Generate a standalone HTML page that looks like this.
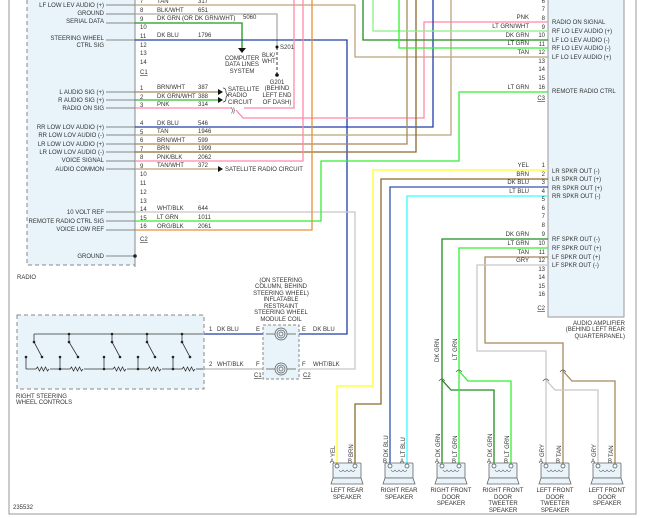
<!DOCTYPE html>
<html><head><meta charset="utf-8"><style>
html,body{margin:0;padding:0;background:#fff;}
svg{display:block;font-family:"Liberation Sans",sans-serif;}
text{font-size:6px;fill:#333;}
.w{fill:none;stroke-width:1.3;}
</style></head><body>
<svg width="650" height="518" viewBox="0 0 650 518" xmlns="http://www.w3.org/2000/svg">
<path d="M9,0 V514 H636 V0" fill="none" stroke="#999" stroke-width="1"/>
<rect x="27" y="-2" width="108" height="267" fill="#e8f4fa"/>
<path d="M27,0 V265 H135" fill="none" stroke="#888" stroke-dasharray="4,3"/>
<line x1="135" y1="0" x2="135" y2="267" stroke="#888"/>
<text x="17" y="279">RADIO</text>
<rect x="548" y="-2" width="76" height="319" fill="#e8f4fa" stroke="#999"/>
<g text-anchor="end"><text x="625" y="325">AUDIO AMPLIFIER</text><text x="625" y="331">(BEHIND LEFT REAR</text><text x="625" y="338">QUARTERPANEL)</text></g>

<g text-anchor="end">
<text x="104" y="7">LF LOW LEV AUDIO (+)</text>
<text x="104" y="15">GROUND</text>
<text x="104" y="23">SERIAL DATA</text>
<text x="104" y="40">STEERING WHEEL</text>
<text x="104" y="47">CTRL SIG</text>
<text x="104" y="94">L AUDIO SIG (+)</text>
<text x="104" y="102">R AUDIO SIG (+)</text>
<text x="104" y="110">RADIO ON SIG</text>
<text x="104" y="129">RR LOW LOV AUDIO (+)</text>
<text x="104" y="137">RR LOW LOV AUDIO (-)</text>
<text x="104" y="146">LR LOW LOV AUDIO (+)</text>
<text x="104" y="154">LR LOW LOV AUDIO (-)</text>
<text x="104" y="162">VOICE SIGNAL</text>
<text x="104" y="171">AUDIO COMMON</text>
<text x="104" y="214">10 VOLT REF</text>
<text x="104" y="223">REMOTE RADIO CTRL SIG</text>
<text x="104" y="231">VOICE LOW REF</text>
<text x="104" y="258">GROUND</text>
</g>
<g stroke="#666" stroke-width="0.8">
<line x1="106" y1="5" x2="135" y2="5"/><line x1="106" y1="14" x2="135" y2="14"/><line x1="106" y1="23" x2="135" y2="23"/><line x1="106" y1="40" x2="135" y2="40"/>
<line x1="106" y1="92" x2="135" y2="92"/><line x1="106" y1="100" x2="135" y2="100"/><line x1="106" y1="108" x2="135" y2="108"/>
<line x1="106" y1="127" x2="135" y2="127"/><line x1="106" y1="135" x2="135" y2="135"/><line x1="106" y1="144" x2="135" y2="144"/><line x1="106" y1="152" x2="135" y2="152"/><line x1="106" y1="161" x2="135" y2="161"/><line x1="106" y1="169" x2="135" y2="169"/>
<line x1="106" y1="212" x2="135" y2="212"/><line x1="106" y1="221" x2="135" y2="221"/><line x1="106" y1="230" x2="135" y2="230"/><line x1="106" y1="256" x2="135" y2="256"/>
</g>
<circle cx="135" cy="256" r="1.8" fill="#222"/>
<g>
<text x="140" y="3">7</text><text x="140" y="12">8</text><text x="140" y="21">9</text><text x="140" y="29">10</text><text x="140" y="38">11</text><text x="140" y="47">12</text><text x="140" y="55">13</text><text x="140" y="64">14</text>
<text x="140" y="74" text-decoration="underline">C1</text>
<text x="140" y="90">1</text><text x="140" y="99">2</text><text x="140" y="107">3</text>
<text x="140" y="125">4</text><text x="140" y="134">5</text><text x="140" y="142">6</text><text x="140" y="151">7</text><text x="140" y="159">8</text><text x="140" y="168">9</text><text x="140" y="176">10</text><text x="140" y="185">11</text><text x="140" y="194">12</text><text x="140" y="203">13</text><text x="140" y="211">14</text><text x="140" y="220">15</text><text x="140" y="228">16</text>
<text x="140" y="241" text-decoration="underline">C2</text>
</g>
<g>
<text x="157" y="3">TAN</text><text x="198" y="3">317</text>
<text x="157" y="12">BLK/WHT</text><text x="198" y="12">651</text>
<text x="157" y="20">DK GRN</text><text x="182" y="20">(OR DK GRN/WHT)</text><text x="243" y="19">5060</text>
<text x="157" y="37">DK BLU</text><text x="198" y="37">1796</text>
<text x="157" y="89">BRN/WHT</text><text x="198" y="89">387</text>
<text x="157" y="98">DK GRN/WHT</text><text x="198" y="98">388</text>
<text x="157" y="106">PNK</text><text x="198" y="106">314</text>
<text x="157" y="125">DK BLU</text><text x="198" y="125">546</text>
<text x="157" y="133">TAN</text><text x="198" y="133">1946</text>
<text x="157" y="142">BRN/WHT</text><text x="198" y="142">599</text>
<text x="157" y="150">BRN</text><text x="198" y="150">1999</text>
<text x="157" y="159">PNK/BLK</text><text x="198" y="159">2062</text>
<text x="157" y="167">TAN/WHT</text><text x="198" y="167">372</text>
<text x="157" y="210">WHT/BLK</text><text x="198" y="210">644</text>
<text x="157" y="219">LT GRN</text><text x="198" y="219">1011</text>
<text x="157" y="228">ORG/BLK</text><text x="198" y="228">2061</text>
</g>

<g class="w">
<path d="M135,5 H355 V57 H548" stroke="#bba57c"/>
<path d="M135,14 H277 V47" stroke="#aaa"/>
<path d="M277,47 V75" stroke="#666" stroke-dasharray="3,2"/>
<path d="M135,23 H242 V48" stroke="#1a9a1a"/>
<path d="M135,40 H347 V334 H299" stroke="#1f3ea8"/>
<path d="M135,92 H218" stroke="#a8885a"/>
<path d="M135,100 H218" stroke="#33bb33"/>
<path d="M135,108 H232" stroke="#ff88aa"/>
<path d="M236,110 L243,118 H424 V22 H548" stroke="#ff88aa"/>
<path d="M294,0 V108 H244" stroke="#ff88aa"/>
<path d="M135,127 H433 V0" stroke="#1f3ea8"/>
<path d="M135,135 H451 V0" stroke="#bba57c"/>
<path d="M135,144 H407 V0" stroke="#a8885a"/>
<path d="M135,152 H416 V0" stroke="#8b6a2e"/>
<path d="M135,161 H303 V0" stroke="#ff88aa"/>
<path d="M135,169 H218" stroke="#bba57c"/>
<path d="M135,212 H355 V369 H299" stroke="#c8c8c8"/>
<path d="M135,221 H321 V161 H459 V92 H548" stroke="#33ee33"/>
<path d="M135,230 H312 V0" stroke="#e8903a"/>
<path d="M373,0 V31 H548" stroke="#88ee88"/>
<path d="M363,0 V40 H548" stroke="#228b22"/>
<path d="M399,0 V48 H548" stroke="#33ee33"/>
<path d="M548,170 H373 V386 H337 V465" stroke="#ffff22"/>
<path d="M548,179 H381 V404 H355 V465" stroke="#8b6a2e"/>
<path d="M548,187 H390 V465" stroke="#3050b0"/>
<path d="M548,196 H407 V465" stroke="#33ffff"/>
<path d="M548,239 H442 V465" stroke="#228b22"/>
<path d="M442,380 L451,390 H494 V465" stroke="#228b22"/>
<path d="M548,248 H459 V465" stroke="#33ee33"/>
<path d="M459,371 L468,381 H511 V465" stroke="#33ee33"/>
<path d="M548,257 H485 V343 H563 V465" stroke="#a8885a"/>
<path d="M563,371 L572,381 H615 V465" stroke="#a8885a"/>
<path d="M548,265 H477 V351 H546 V465" stroke="#c8c8c8"/>
<path d="M546,380 L555,390 H598 V465" stroke="#c8c8c8"/>
<path d="M204,334 H263" stroke="#1f3ea8"/>
<path d="M204,369 H263" stroke="#bbb"/>
</g>
<g fill="none" stroke="#555" stroke-width="0.7">
<path d="M439,381 q3,-4 6,0"/><path d="M456,372 q3,-4 6,0"/><path d="M543,381 q3,-4 6,0"/><path d="M560,372 q3,-4 6,0"/>
</g>
<polygon points="238,48 246,48 242,53" fill="#111"/>
<g text-anchor="middle"><text x="242" y="60">COMPUTER</text><text x="242" y="66">DATA LINES</text><text x="242" y="73">SYSTEM</text></g>
<circle cx="277" cy="47" r="1.5" fill="#111"/><text x="280" y="49">S201</text>
<text x="262" y="57">BLK/</text><text x="262" y="63">WHT</text>
<circle cx="277" cy="75" r="1.8" fill="#111"/>
<g text-anchor="middle"><text x="277" y="84">G201</text><text x="277" y="90">(BEHIND</text><text x="277" y="97">LEFT END</text><text x="277" y="104">OF DASH)</text></g>
<polygon points="218,89 223,92 218,95" fill="#111"/><polygon points="218,97 223,100 218,103" fill="#111"/><polygon points="218,166 223,169 218,172" fill="#111"/>
<path d="M223,88 q3,0 3,4 q0,2 2,3 q-2,1 -2,3 q0,4 -3,4" fill="none" stroke="#333" stroke-width="0.7"/>
<text x="228" y="91">SATELLITE</text><text x="228" y="97">RADIO</text><text x="228" y="104">CIRCUIT</text>
<text x="231" y="112">)}</text>
<text x="225" y="171">SATELLITE RADIO CIRCUIT</text>

<g text-anchor="end">
<text x="529" y="19">PNK</text><text x="529" y="28">LT GRN/WHT</text><text x="529" y="37">DK GRN</text><text x="529" y="45">LT GRN</text><text x="529" y="54">TAN</text><text x="529" y="89">LT GRN</text>
<text x="545" y="3">6</text><text x="545" y="11">7</text>
<text x="545" y="20">8</text><text x="545" y="29">9</text><text x="545" y="37">10</text><text x="545" y="46">11</text><text x="545" y="54">12</text><text x="545" y="63">13</text><text x="545" y="71">14</text><text x="545" y="80">15</text><text x="545" y="89">16</text>
<text x="545" y="100" text-decoration="underline">C3</text>
<text x="529" y="167">YEL</text><text x="529" y="176">BRN</text><text x="529" y="184">DK BLU</text><text x="529" y="193">LT BLU</text>
<text x="545" y="167">1</text><text x="545" y="176">2</text><text x="545" y="184">3</text><text x="545" y="193">4</text><text x="545" y="201">5</text><text x="545" y="210">6</text><text x="545" y="218">7</text><text x="545" y="227">8</text>
<text x="529" y="236">DK GRN</text><text x="529" y="245">LT GRN</text><text x="529" y="254">TAN</text><text x="529" y="262">GRY</text>
<text x="545" y="236">9</text><text x="545" y="245">10</text><text x="545" y="254">11</text><text x="545" y="262">12</text><text x="545" y="271">13</text><text x="545" y="279">14</text><text x="545" y="288">15</text><text x="545" y="296">16</text>
<text x="545" y="310" text-decoration="underline">C2</text>
</g>
<g>
<text x="552" y="24">RADIO ON SIGNAL</text><text x="552" y="33">RF LO LEV AUDIO (+)</text><text x="552" y="42">LF LO LEV AUDIO (-)</text><text x="552" y="50">RF LO LEV AUDIO (-)</text><text x="552" y="59">LF LO LEV AUDIO (+)</text><text x="552" y="93">REMOTE RADIO CTRL</text>
<text x="552" y="173">LR SPKR OUT (-)</text><text x="552" y="181">LR SPKR OUT (+)</text><text x="552" y="190">RR SPKR OUT (+)</text><text x="552" y="198">RR SPKR OUT (-)</text>
<text x="552" y="241">RF SPKR OUT (-)</text><text x="552" y="250">RF SPKR OUT (+)</text><text x="552" y="259">LF SPKR OUT (+)</text><text x="552" y="267">LF SPKR OUT (-)</text>
</g>

<rect x="17" y="315" width="187" height="74" fill="#e8f4fa" stroke="#888" stroke-dasharray="4,3"/>
<text x="16" y="398">RIGHT STEERING</text><text x="16" y="404">WHEEL CONTROLS</text>
<g stroke="#333" stroke-width="0.8" fill="none">
<path d="M34,334 H203"/><path d="M26,369 H36 M50,369 H70 M84,369 H113 M127,369 H148 M162,369 H182 M196,369 H203"/>
<path d="M36,369 l1.5,-2 l2,4 l2,-4 l2,4 l2,-4 l2,4 l1.5,-2 M70,369 l1.5,-2 l2,4 l2,-4 l2,4 l2,-4 l2,4 l1.5,-2 M113,369 l1.5,-2 l2,4 l2,-4 l2,4 l2,-4 l2,4 l1.5,-2 M148,369 l1.5,-2 l2,4 l2,-4 l2,4 l2,-4 l2,4 l1.5,-2 M182,369 l1.5,-2 l2,4 l2,-4 l2,4 l2,-4 l2,4 l1.5,-2"/>
<path d="M34,334 V342 L42,357 M69,334 V342 L78,357 M112,334 V342 L120,357 M147,334 V342 L155,357 M182,334 V342 L190,357"/>
<path d="M26,357 V369 M60,357 V369 M104,357 V369 M138,357 V369 M173,357 V369"/>
</g>
<g fill="#222">
<circle cx="34" cy="342" r="1.3"/><circle cx="42" cy="357" r="1.3"/><circle cx="69" cy="334" r="1.3"/><circle cx="69" cy="342" r="1.3"/><circle cx="78" cy="357" r="1.3"/><circle cx="112" cy="334" r="1.3"/><circle cx="112" cy="342" r="1.3"/><circle cx="120" cy="357" r="1.3"/><circle cx="147" cy="334" r="1.3"/><circle cx="147" cy="342" r="1.3"/><circle cx="155" cy="357" r="1.3"/><circle cx="182" cy="334" r="1.3"/><circle cx="182" cy="342" r="1.3"/><circle cx="190" cy="357" r="1.3"/>
<circle cx="26" cy="357" r="1.3"/><circle cx="60" cy="357" r="1.3"/><circle cx="60" cy="369" r="1.3"/><circle cx="104" cy="357" r="1.3"/><circle cx="104" cy="369" r="1.3"/><circle cx="138" cy="357" r="1.3"/><circle cx="138" cy="369" r="1.3"/><circle cx="173" cy="357" r="1.3"/><circle cx="173" cy="369" r="1.3"/>
</g>
<text x="209" y="331">1</text><text x="217" y="331">DK BLU</text>
<text x="209" y="366">2</text><text x="217" y="366">WHT/BLK</text>
<rect x="263" y="325" width="36" height="54" fill="#e8f4fa" stroke="#888" stroke-dasharray="3,2"/>
<g fill="none" stroke="#555" stroke-width="0.7">
<circle cx="281" cy="334" r="6"/><circle cx="281" cy="334" r="4"/><circle cx="281" cy="334" r="2"/>
<circle cx="281" cy="369" r="6"/><circle cx="281" cy="369" r="4"/><circle cx="281" cy="369" r="2"/>
<path d="M266,334 H275 M287,334 H296 M266,369 H275 M287,369 H296"/>
</g>
<g text-anchor="middle">
<text x="281" y="282">(ON STEERING</text><text x="281" y="288">COLUMN, BEHIND</text><text x="281" y="295">STEERING WHEEL)</text><text x="281" y="301">INFLATABLE</text><text x="281" y="308">RESTRAINT</text><text x="281" y="314">STEERING WHEEL</text><text x="281" y="321">MODULE COIL</text>
</g>
<text x="256" y="331">E</text><text x="302" y="331">E</text><text x="256" y="366">F</text><text x="302" y="366">F</text>
<text x="254" y="377" text-decoration="underline">C1</text><text x="303" y="377" text-decoration="underline">C2</text>
<text x="313" y="331">DK BLU</text><text x="313" y="366">WHT/BLK</text>
<text x="13" y="509">235532</text>

<g>
<text transform="translate(439,362) rotate(-90)">DK GRN</text>
<text transform="translate(457,360) rotate(-90)">LT GRN</text>
</g>

<g fill="#e8f4fa" stroke="#666" stroke-width="0.8">
<rect x="333" y="463" width="28" height="15" rx="1"/><polygon points="333,478 361,478 363,484 331,484"/>
<rect x="385" y="463" width="28" height="15" rx="1"/><polygon points="385,478 413,478 415,484 383,484"/>
<rect x="437" y="463" width="28" height="15" rx="1"/><polygon points="437,478 465,478 467,484 435,484"/>
<rect x="489" y="463" width="28" height="15" rx="1"/><polygon points="489,478 517,478 519,484 487,484"/>
<rect x="541" y="463" width="28" height="15" rx="1"/><polygon points="541,478 569,478 571,484 539,484"/>
<rect x="593" y="463" width="28" height="15" rx="1"/><polygon points="593,478 621,478 623,484 591,484"/>
</g>
<g fill="none" stroke="#555" stroke-width="0.6">
<path d="M339,470 q2,3 4,0 q2,3 4,0 q2,3 4,0 q2,3 4,0"/>
<path d="M391,470 q2,3 4,0 q2,3 4,0 q2,3 4,0 q2,3 4,0"/>
<path d="M443,470 q2,3 4,0 q2,3 4,0 q2,3 4,0 q2,3 4,0"/>
<path d="M495,470 q2,3 4,0 q2,3 4,0 q2,3 4,0 q2,3 4,0"/>
<path d="M547,470 q2,3 4,0 q2,3 4,0 q2,3 4,0 q2,3 4,0"/>
<path d="M599,470 q2,3 4,0 q2,3 4,0 q2,3 4,0 q2,3 4,0"/>
</g>
<g fill="#fff" stroke="#444" stroke-width="0.7">
<circle cx="337" cy="466" r="2"/><circle cx="355" cy="466" r="2"/><circle cx="390" cy="466" r="2"/><circle cx="407" cy="466" r="2"/>
<circle cx="442" cy="466" r="2"/><circle cx="459" cy="466" r="2"/><circle cx="494" cy="466" r="2"/><circle cx="511" cy="466" r="2"/>
<circle cx="546" cy="466" r="2"/><circle cx="563" cy="466" r="2"/><circle cx="598" cy="466" r="2"/><circle cx="615" cy="466" r="2"/>
</g>
<g>
<text x="330" y="463">A</text><text x="348" y="463">B</text><text x="383" y="463">B</text><text x="400" y="463">A</text>
<text x="435" y="463">A</text><text x="452" y="463">B</text><text x="487" y="463">A</text><text x="504" y="463">B</text>
<text x="539" y="463">A</text><text x="556" y="463">B</text><text x="591" y="463">A</text><text x="608" y="463">B</text>
<text transform="translate(335,457) rotate(-90)">YEL</text><text transform="translate(353,457) rotate(-90)">BRN</text>
<text transform="translate(388,457) rotate(-90)">DK BLU</text><text transform="translate(405,457) rotate(-90)">LT BLU</text>
<text transform="translate(440,457) rotate(-90)">DK GRN</text><text transform="translate(457,457) rotate(-90)">LT GRN</text>
<text transform="translate(492,457) rotate(-90)">DK GRN</text><text transform="translate(509,457) rotate(-90)">LT GRN</text>
<text transform="translate(544,457) rotate(-90)">GRY</text><text transform="translate(561,457) rotate(-90)">TAN</text>
<text transform="translate(596,457) rotate(-90)">GRY</text><text transform="translate(613,457) rotate(-90)">TAN</text>
</g>
<g text-anchor="middle">
<text x="347" y="492">LEFT REAR</text><text x="347" y="499">SPEAKER</text>
<text x="399" y="492">RIGHT REAR</text><text x="399" y="499">SPEAKER</text>
<text x="451" y="492">RIGHT FRONT</text><text x="451" y="499">DOOR</text><text x="451" y="505">SPEAKER</text>
<text x="503" y="492">RIGHT FRONT</text><text x="503" y="499">DOOR</text><text x="503" y="505">TWEETER</text><text x="503" y="512">SPEAKER</text>
<text x="555" y="492">LEFT FRONT</text><text x="555" y="499">DOOR</text><text x="555" y="505">TWEETER</text><text x="555" y="512">SPEAKER</text>
<text x="607" y="492">LEFT FRONT</text><text x="607" y="499">DOOR</text><text x="607" y="505">SPEAKER</text>
</g>
</svg>
</body></html>
